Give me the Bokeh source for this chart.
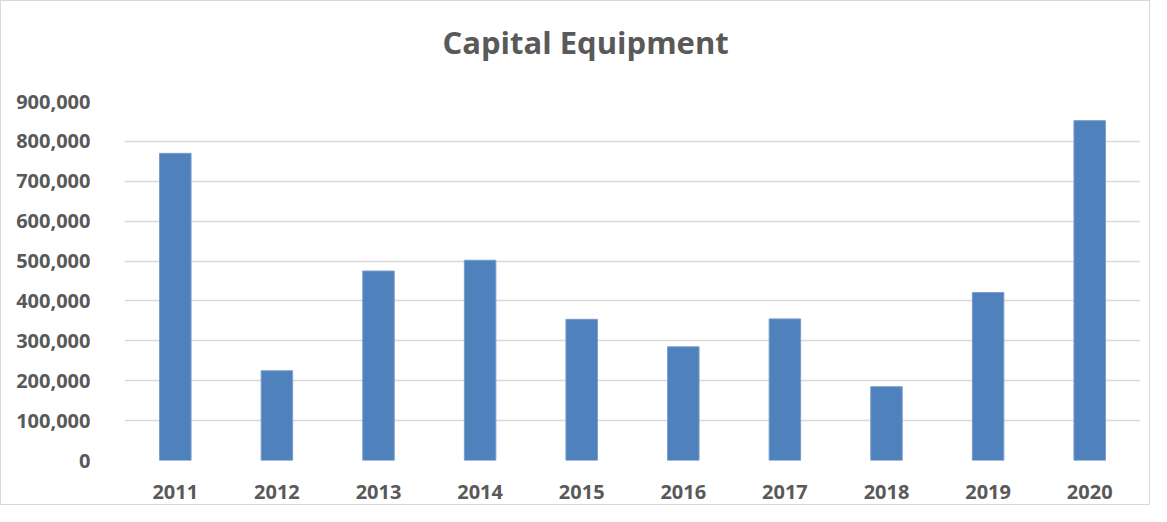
from bokeh.plotting import figure
from bokeh.models import Range1d, NumeralTickFormatter, FixedTicker, Title
from bokeh.embed import file_html
from bokeh.resources import INLINE

years = ["2011", "2012", "2013", "2014", "2015", "2016", "2017", "2018", "2019", "2020"]
values = [770000, 225000, 475000, 502000, 354000, 285000, 355000, 185000, 421000, 852000]
y_ticks = [0, 100000, 200000, 300000, 400000, 500000, 600000, 700000, 800000, 900000]
title_text = "Capital Equipment"

FONT = "Open Sans"
TXT = "#595959"

p = figure(x_range=years, y_range=Range1d(0, 900000), width=1150, height=505,
           output_backend="svg", toolbar_location=None, title=title_text,
           min_border_left=123, min_border_right=11, min_border_bottom=46, min_border_top=99)

p.vbar(x=years, top=values, width=0.31, fill_color="#4F81BD", line_color="#7A9CCB", line_width=1)

# spacer between the title and the plot frame
p.add_layout(Title(text=" ", text_font_size="1px", standoff=15), "above")

p.title.align = "left"
p.title.offset = 318
p.title.vertical_align = "top"
p.title.standoff = 38
p.title.text_font = FONT
p.title.text_font_size = "31px"
p.title.text_font_style = "bold"
p.title.text_color = TXT

p.yaxis.ticker = FixedTicker(ticks=y_ticks)
p.yaxis.formatter = NumeralTickFormatter(format="0,0")
for ax in (p.xaxis[0], p.yaxis[0]):
    ax.major_label_text_font = FONT
    ax.major_label_text_font_size = "20px"
    ax.major_label_text_font_style = "bold"
    ax.major_label_text_color = TXT
    ax.axis_line_color = None
    ax.major_tick_line_color = None
    ax.minor_tick_line_color = None
p.yaxis.major_label_standoff = 28
p.xaxis.major_label_standoff = 18

p.xgrid.grid_line_color = None
p.ygrid.grid_line_color = "#d9d9d9"
p.ygrid.grid_line_width = 1.5
p.outline_line_color = None
p.x_range.range_padding = 0
p.styles = {"border": "1px solid #d9d9d9"}

open("out.html", "w").write(file_html(p, INLINE))
